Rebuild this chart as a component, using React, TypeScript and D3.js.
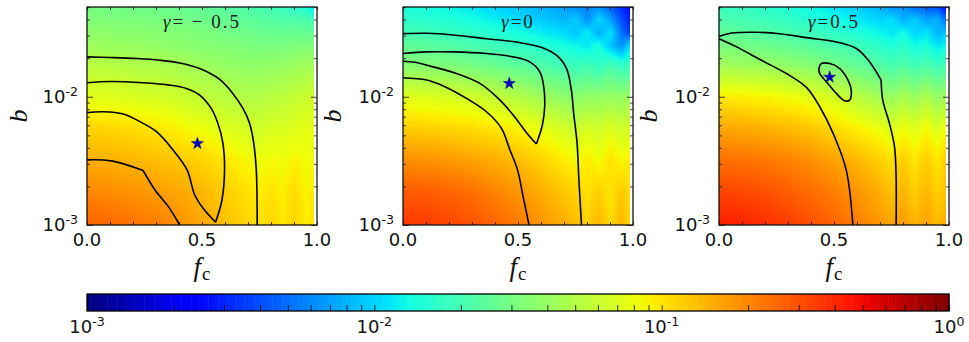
import { useEffect, useRef } from "react";
import * as d3 from "d3";

const WIDTH = 969;
const HEIGHT = 342;

// grid the heat values were read on
const fCols = [0, 0.1, 0.2, 0.3, 0.4, 0.5, 0.6, 0.7, 0.75, 0.8, 0.85, 0.9, 0.95, 0.985];
const logbRows = [-1.3, -1.4, -1.5, -1.6, -1.75, -2, -2.25, -2.5, -2.75, -3];

// log10 of the colour value, one row per logbRows entry
const heatA = [
  [-1.53, -1.54, -1.55, -1.56, -1.58, -1.6, -1.63, -1.67, -1.69, -1.72, -1.75, -1.79, -1.84, -2.0],
  [-1.48, -1.49, -1.5, -1.51, -1.53, -1.55, -1.58, -1.61, -1.63, -1.64, -1.66, -1.67, -1.68, -1.72],
  [-1.43, -1.44, -1.45, -1.46, -1.48, -1.5, -1.53, -1.55, -1.56, -1.57, -1.58, -1.58, -1.58, -1.58],
  [-1.38, -1.39, -1.4, -1.42, -1.44, -1.46, -1.48, -1.5, -1.51, -1.51, -1.51, -1.5, -1.49, -1.48],
  [-1.28, -1.29, -1.31, -1.33, -1.35, -1.38, -1.41, -1.43, -1.43, -1.42, -1.41, -1.39, -1.37, -1.36],
  [-1.13, -1.14, -1.16, -1.18, -1.21, -1.25, -1.28, -1.3, -1.3, -1.28, -1.27, -1.24, -1.22, -1.2],
  [-0.94, -0.95, -0.97, -1.0, -1.04, -1.09, -1.14, -1.18, -1.19, -1.16, -1.16, -1.14, -1.12, -1.12],
  [-0.82, -0.83, -0.85, -0.87, -0.9, -0.94, -1.0, -1.06, -1.09, -1.06, -1.08, -1.04, -1.08, -1.06],
  [-0.69, -0.71, -0.73, -0.76, -0.8, -0.85, -0.92, -0.99, -1.02, -0.99, -1.03, -0.96, -1.04, -1.02],
  [-0.58, -0.6, -0.63, -0.67, -0.73, -0.8, -0.88, -0.95, -0.98, -0.94, -1.01, -0.94, -1.02, -1],
];
const heatB = [
  [-1.85, -1.87, -1.9, -1.95, -2.0, -2.05, -2.1, -2.15, -2.2, -2.25, -2.2, -2.35, -2.5, -2.6],
  [-1.78, -1.8, -1.83, -1.87, -1.92, -1.98, -2.03, -2.08, -2.02, -2.2, -1.98, -2.15, -2.4, -2.55],
  [-1.7, -1.72, -1.75, -1.78, -1.82, -1.87, -1.93, -1.98, -2.05, -1.92, -2.12, -1.95, -2.3, -2.45],
  [-1.6, -1.62, -1.65, -1.69, -1.73, -1.77, -1.82, -1.87, -1.9, -1.95, -1.85, -2.05, -2.2, -1.95],
  [-1.47, -1.48, -1.5, -1.53, -1.57, -1.62, -1.67, -1.72, -1.75, -1.72, -1.78, -1.7, -1.78, -1.74],
  [-1.14, -1.15, -1.17, -1.2, -1.24, -1.3, -1.37, -1.43, -1.45, -1.42, -1.42, -1.4, -1.42, -1.38],
  [-0.92, -0.93, -0.95, -0.97, -1.0, -1.04, -1.1, -1.18, -1.22, -1.16, -1.2, -1.14, -1.2, -1.16],
  [-0.72, -0.73, -0.75, -0.78, -0.82, -0.87, -0.94, -1.02, -1.06, -1.02, -1.08, -0.98, -1.06, -1.02],
  [-0.55, -0.56, -0.58, -0.62, -0.68, -0.74, -0.82, -0.9, -0.94, -0.98, -0.92, -1.0, -0.9, -0.98],
  [-0.44, -0.46, -0.49, -0.53, -0.59, -0.66, -0.74, -0.82, -0.87, -0.93, -0.85, -0.96, -0.85, -0.96],
];
const heatC = [
  [-1.74, -1.76, -1.8, -1.84, -1.9, -1.96, -2.02, -2.1, -2.2, -2.2, -2.3, -2.35, -2.4, -2.6],
  [-1.68, -1.7, -1.73, -1.77, -1.82, -1.87, -1.93, -2.0, -1.96, -2.1, -2.02, -2.15, -2.1, -2.3],
  [-1.6, -1.62, -1.65, -1.68, -1.73, -1.78, -1.84, -1.9, -1.95, -1.88, -2.0, -1.95, -2.1, -2.05],
  [-1.52, -1.53, -1.56, -1.59, -1.63, -1.68, -1.73, -1.8, -1.84, -1.8, -1.88, -1.85, -1.95, -1.9],
  [-1.37, -1.38, -1.4, -1.43, -1.47, -1.53, -1.6, -1.66, -1.7, -1.66, -1.72, -1.68, -1.74, -1.7],
  [-1.02, -1.03, -1.05, -1.08, -1.12, -1.18, -1.28, -1.36, -1.4, -1.34, -1.4, -1.32, -1.42, -1.36],
  [-0.8, -0.81, -0.83, -0.86, -0.9, -0.96, -1.03, -1.1, -1.15, -1.08, -1.14, -1.06, -1.16, -1.08],
  [-0.62, -0.63, -0.65, -0.68, -0.72, -0.78, -0.85, -0.93, -0.98, -0.92, -1.0, -0.92, -1.0, -0.92],
  [-0.48, -0.49, -0.52, -0.56, -0.61, -0.67, -0.74, -0.82, -0.88, -0.84, -0.92, -0.85, -0.93, -0.88],
  [-0.36, -0.38, -0.41, -0.46, -0.52, -0.59, -0.67, -0.75, -0.8, -0.76, -0.84, -0.78, -0.86, -0.8],
];

// contour lines as [f, log10 b]; the tongues are split at their cusp so it stays sharp
const contoursA = [
  [[0, -1.689], [0.1, -1.694], [0.215, -1.702], [0.316, -1.715], [0.403, -1.736], [0.49, -1.78], [0.577, -1.865], [0.634, -1.974], [0.678, -2.091], [0.707, -2.207], [0.725, -2.363], [0.736, -2.57], [0.74, -3]],
  [[0, -1.891], [0.1, -1.881], [0.244, -1.891], [0.36, -1.909], [0.432, -1.935], [0.49, -1.987], [0.54, -2.091], [0.569, -2.207], [0.591, -2.363], [0.598, -2.57], [0.587, -2.803], [0.559, -2.979]],
  [[0.559, -2.979], [0.504, -2.868], [0.468, -2.764], [0.435, -2.57], [0.374, -2.415], [0.302, -2.272], [0.23, -2.194], [0.158, -2.135], [0.071, -2.117], [0, -2.124]],
  [[0, -2.492], [0.107, -2.5], [0.244, -2.575]],
  [[0.244, -2.575], [0.295, -2.725], [0.353, -2.855], [0.403, -3]],
];
const contoursB = [
  [[0, -1.508], [0.103, -1.505], [0.219, -1.518], [0.363, -1.547], [0.508, -1.578], [0.609, -1.619], [0.667, -1.676], [0.711, -1.78], [0.732, -1.948], [0.742, -2.13], [0.757, -2.363], [0.764, -2.622], [0.776, -3]],
  [[0, -1.663], [0.103, -1.65], [0.219, -1.65], [0.363, -1.663], [0.479, -1.689], [0.551, -1.728], [0.595, -1.806], [0.612, -1.922], [0.616, -2.078], [0.606, -2.22], [0.58, -2.368]],
  [[0.58, -2.368], [0.537, -2.28], [0.479, -2.142], [0.414, -2.013], [0.334, -1.896], [0.233, -1.819], [0.132, -1.767], [0.052, -1.731], [0, -1.723]],
  [[0, -1.852], [0.103, -1.87], [0.182, -1.922], [0.276, -2.013], [0.363, -2.117], [0.428, -2.246], [0.465, -2.415], [0.498, -2.57], [0.522, -2.777], [0.548, -3]],
];
const contoursC = [
  [[0, -1.528], [0.055, -1.503], [0.163, -1.497], [0.264, -1.508], [0.38, -1.539], [0.51, -1.573], [0.597, -1.624], [0.647, -1.71], [0.705, -1.87]],
  [[0.705, -1.87], [0.712, -2.026], [0.741, -2.207], [0.763, -2.389], [0.77, -2.622], [0.77, -3]],
  [[0, -1.547], [0.077, -1.611], [0.178, -1.71], [0.293, -1.819], [0.38, -1.927], [0.438, -2.078], [0.496, -2.285], [0.553, -2.57], [0.582, -3]],
  [[0.434, -1.78], [0.445, -1.741], [0.481, -1.741], [0.525, -1.78], [0.561, -1.87], [0.575, -1.948], [0.568, -2.026], [0.546, -2.031], [0.51, -1.974], [0.467, -1.883], [0.438, -1.819], [0.434, -1.78]],
];

const panelLefts = [87, 403, 719];
const panelTitles = [" \u2212 0.5", "0", "0.5"];
const panelHeat = [heatA, heatB, heatC];
const panelContours = [contoursA, contoursB, contoursC];
const starF = [0.48, 0.462, 0.481];
const starLogb = [-2.365, -1.896, -1.847];

const xTicks = d3.range(0, 11).map((d) => d / 10);
const bDecades = [1e-3, 1e-2];
const bMinor = [2e-3, 3e-3, 4e-3, 5e-3, 6e-3, 7e-3, 8e-3, 9e-3, 2e-2, 3e-2, 4e-2, 5e-2];
const barDecades = [1e-3, 1e-2, 1e-1, 1];
const barMinor = d3.range(-3, 0).flatMap((e) => d3.range(2, 10).map((m) => m * 10 ** e));

const jetR = d3.scaleLinear().domain([0, 0.35, 0.66, 0.89, 1]).range([0, 0, 1, 1, 0.5]);
const jetG = d3.scaleLinear().domain([0, 0.125, 0.375, 0.64, 0.91, 1]).range([0, 0, 1, 1, 0, 0]);
const jetB = d3.scaleLinear().domain([0, 0.11, 0.34, 0.65, 1]).range([0.5, 1, 1, 0, 0]);
const jet = (t: number) => [jetR(t), jetG(t), jetB(t)].map((c) => Math.round(c * 255));

const mono = "'DejaVu Sans', sans-serif";
const serif = "'Liberation Serif', 'Times New Roman', serif";

function powerLabel(sel: any, exponent: string, size: number) {
  sel.append("tspan").text("10");
  sel.append("tspan").attr("dy", -size * 0.38).attr("font-size", size * 0.7).text(exponent);
}

function heatImage(grid: number[][], w: number, h: number, y: any) {
  const canvas = document.createElement("canvas");
  canvas.width = w;
  canvas.height = h;
  const ctx = canvas.getContext("2d")!;
  const image = ctx.createImageData(w, h);
  const colIdx = d3.scaleLinear().domain(fCols).range(d3.range(fCols.length)).clamp(true);
  const rowIdx = d3.scaleLinear().domain(logbRows).range(d3.range(logbRows.length)).clamp(true);
  const last = 0.985;
  for (let py = 0; py < h; py++) {
    const lb = Math.log10(y.invert(py + 7.5));
    const r = rowIdx(lb);
    const r0 = Math.min(Math.floor(r), logbRows.length - 2);
    for (let px = 0; px < w; px++) {
      const c = colIdx(((px + 0.5) / w) * last);
      const c0 = Math.min(Math.floor(c), fCols.length - 2);
      const top = d3.interpolateNumber(grid[r0][c0], grid[r0][c0 + 1])(c - c0);
      const bottom = d3.interpolateNumber(grid[r0 + 1][c0], grid[r0 + 1][c0 + 1])(c - c0);
      const v = d3.interpolateNumber(top, bottom)(r - r0);
      const [cr, cg, cb] = jet((v + 3) / 3);
      const i = (py * w + px) * 4;
      image.data[i] = cr;
      image.data[i + 1] = cg;
      image.data[i + 2] = cb;
      image.data[i + 3] = 255;
    }
  }
  ctx.putImageData(image, 0, 0);
  return canvas.toDataURL();
}

function App() {
  const svgRef = useRef<SVGSVGElement>(null);

  useEffect(() => {
    const svg = d3.select(svgRef.current);
    svg.selectAll("*").remove();

    const top = 7;
    const bottom = 225;
    const panelW = 230;
    const ink = "#111";

    panelLefts.forEach((left, p) => {
      const x = d3.scaleLinear().domain([0, 1]).range([left, left + panelW]);
      const y = d3.scaleLog().domain([1e-3, 10 ** -1.3]).range([bottom, top]);
      const g = svg.append("g");

      const href = heatImage(panelHeat[p], Math.round(panelW * 0.985), bottom - top, y);
      g.append("image")
        .attr("x", left)
        .attr("y", top)
        .attr("width", Math.round(panelW * 0.985))
        .attr("height", bottom - top)
        .attr("href", href);

      const line = d3
        .line<number[]>()
        .x((d) => x(d[0]))
        .y((d) => y(10 ** d[1]))
        .curve(d3.curveCatmullRom.alpha(0.5));
      g.selectAll(".contour")
        .data(panelContours[p])
        .enter()
        .append("path")
        .attr("fill", "none")
        .attr("stroke", "#000")
        .attr("stroke-width", 1.6)
        .attr("stroke-linejoin", "round")
        .attr("d", line as any);

      g.append("path")
        .attr("transform", `translate(${x(starF[p])},${y(10 ** starLogb[p])})`)
        .attr("d", d3.symbol(d3.symbolStar, 45)() as string)
        .attr("fill", "#0000c8")
        .attr("stroke", "#00006a")
        .attr("stroke-width", 0.5);

      // frame ticks, all pointing inwards
      const tickAxis = (axis: any, at: string, size: number, values: number[]) => {
        const a = g
          .append("g")
          .attr("transform", at)
          .call(axis.tickValues(values).tickSize(-size).tickFormat(() => ""));
        a.select(".domain").remove();
        a.selectAll("line").attr("stroke", ink).attr("stroke-width", 0.8);
      };
      tickAxis(d3.axisBottom(x), `translate(0,${bottom})`, 3, xTicks);
      tickAxis(d3.axisTop(x), `translate(0,${top})`, 3, xTicks);
      tickAxis(d3.axisLeft(y), `translate(${left},0)`, 6, bDecades);
      tickAxis(d3.axisLeft(y), `translate(${left},0)`, 3, bMinor);
      tickAxis(d3.axisRight(y), `translate(${left + panelW},0)`, 6, bDecades);
      tickAxis(d3.axisRight(y), `translate(${left + panelW},0)`, 3, bMinor);

      g.append("rect")
        .attr("x", left)
        .attr("y", top)
        .attr("width", panelW)
        .attr("height", bottom - top)
        .attr("fill", "none")
        .attr("stroke", ink)
        .attr("stroke-width", 1.3);

      [0, 0.5, 1].forEach((v) => {
        g.append("text")
          .attr("x", x(v))
          .attr("y", 246)
          .attr("text-anchor", "middle")
          .attr("font-family", mono)
          .attr("font-size", 18)
          .attr("fill", "#111")
          .text(v.toFixed(1));
      });
      ["-3", "-2"].forEach((exp, i) => {
        const t = g
          .append("text")
          .attr("x", left - 9)
          .attr("y", y(bDecades[i]) + 6)
          .attr("text-anchor", "end")
          .attr("font-family", mono)
          .attr("font-size", 18)
          .attr("fill", "#111");
        powerLabel(t, exp, 18);
      });

      const title = g
        .append("text")
        .attr("x", left + panelW * 0.5)
        .attr("y", 27.5)
        .attr("text-anchor", "middle")
        .attr("font-family", serif)
        .attr("font-size", 19)
        .attr("letter-spacing", 2)
        .attr("fill", "#222");
      title.append("tspan").attr("font-style", "italic").text("\u03b3");
      title.append("tspan").text(`=${panelTitles[p]}`);

      const xl = g
        .append("text")
        .attr("x", x(0.5))
        .attr("y", 276)
        .attr("text-anchor", "middle")
        .attr("font-family", serif)
        .attr("font-size", 27)
        .attr("fill", "#111");
      xl.append("tspan").attr("font-style", "italic").text("f");
      xl.append("tspan").attr("dy", 4).attr("dx", 1).attr("font-size", 19).text("c");

      g.append("text")
        .attr("transform", `translate(${left - (p === 0 ? 60 : 62)},116) rotate(-90)`)
        .attr("text-anchor", "middle")
        .attr("font-family", serif)
        .attr("font-style", "italic")
        .attr("font-size", 26)
        .attr("fill", "#111")
        .text("b");
    });

    // colour bar
    const barTop = 294;
    const barBottom = 311;
    const bar = d3.scaleLog().domain([1e-3, 1]).range([87, 949]);
    const levels = d3.range(256);
    const barG = svg.append("g");
    barG
      .selectAll("rect")
      .data(levels)
      .enter()
      .append("rect")
      .attr("x", (d) => 87 + (d / 256) * 862)
      .attr("y", barTop)
      .attr("width", 862 / 256 + 0.5)
      .attr("height", barBottom - barTop)
      .attr("fill", (d) => d3.rgb(...(jet(d / 255) as [number, number, number])).toString());

    const barAxis = barG
      .append("g")
      .attr("transform", `translate(0,${barBottom})`)
      .call(d3.axisBottom(bar).tickValues([...barMinor, ...barDecades]).tickSize(-6).tickFormat(() => ""));
    barAxis.select(".domain").remove();
    barAxis.selectAll("line").attr("stroke", "#000").attr("stroke-width", 0.8);

    barG
      .append("rect")
      .attr("x", 87)
      .attr("y", barTop)
      .attr("width", 862)
      .attr("height", barBottom - barTop)
      .attr("fill", "none")
      .attr("stroke", "#000")
      .attr("stroke-width", 1.3);

    ["-3", "-2", "-1", "0"].forEach((exp, i) => {
      const t = barG
        .append("text")
        .attr("x", bar(barDecades[i]))
        .attr("y", 332.5)
        .attr("text-anchor", "middle")
        .attr("font-family", mono)
        .attr("font-size", 18)
        .attr("fill", "#111");
      powerLabel(t, exp, 18);
    });
  }, []);

  return (
    <svg
      ref={svgRef}
      width={WIDTH}
      height={HEIGHT}
      style={{ position: "absolute", left: 0, top: 0, background: "#fff" }}
    />
  );
}

export default App;
